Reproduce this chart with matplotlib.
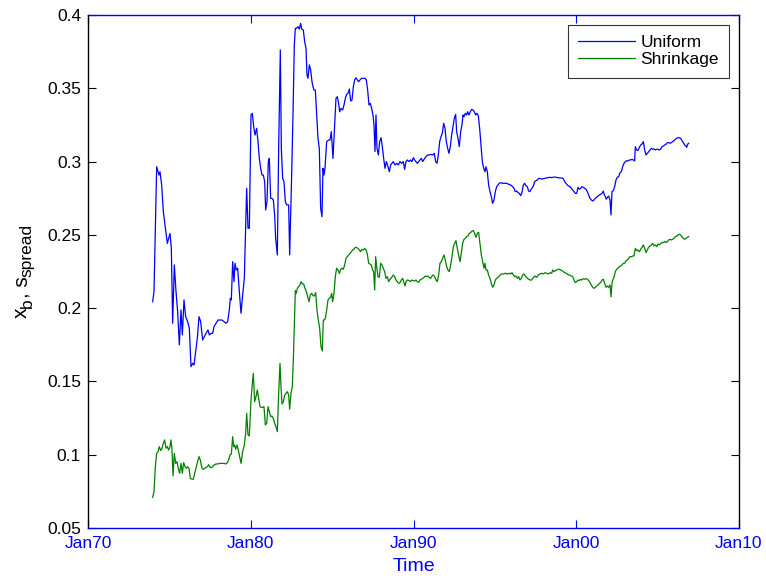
import matplotlib
matplotlib.use("Agg")
import matplotlib.pyplot as plt
from matplotlib.ticker import FixedLocator, FixedFormatter

plt.rcParams["font.family"] = ["Liberation Sans", "DejaVu Sans"]

# Uniform estimate (decimal year, value)
uniform_t = [
    1973.973, 1974.055, 1974.219, 1974.362, 1974.424, 1974.526, 1974.629, 1974.731, 1974.874, 1974.956,
    1975.038, 1975.120, 1975.202, 1975.304, 1975.407, 1975.509, 1975.612, 1975.714, 1975.796, 1975.898,
    1976.001, 1976.124, 1976.226, 1976.328, 1976.431, 1976.513, 1976.615, 1976.717, 1976.820, 1976.922,
    1977.045, 1977.148, 1977.250, 1977.373, 1977.455, 1977.557, 1977.660, 1977.741, 1977.864, 1977.987,
    1978.110, 1978.233, 1978.356, 1978.479, 1978.581, 1978.684, 1978.745, 1978.807, 1978.889, 1978.971,
    1979.032, 1979.114, 1979.196, 1979.298, 1979.401, 1979.503, 1979.605, 1979.687, 1979.749, 1979.831,
    1979.913, 1980.015, 1980.097, 1980.179, 1980.261, 1980.363, 1980.445, 1980.527, 1980.609, 1980.691,
    1980.773, 1980.855, 1980.916, 1980.998, 1981.080, 1981.141, 1981.223, 1981.305, 1981.387, 1981.469,
    1981.530, 1981.633, 1981.715, 1981.817, 1981.879, 1981.960, 1982.042, 1982.124, 1982.206, 1982.329,
    1982.391, 1982.513, 1982.595, 1982.677, 1982.739, 1982.800, 1982.903, 1982.984, 1983.066, 1983.128,
    1983.230, 1983.312, 1983.394, 1983.455, 1983.517, 1983.599, 1983.681, 1983.763, 1983.824, 1983.886,
    1983.968, 1984.050, 1984.131, 1984.213, 1984.295, 1984.377, 1984.438, 1984.500, 1984.561, 1984.664,
    1984.787, 1984.869, 1984.950, 1985.053, 1985.155, 1985.237, 1985.319, 1985.401,
    1985.463, 1985.545, 1985.647, 1985.729, 1985.811, 1985.893, 1985.975, 1986.057, 1986.139, 1986.221,
    1986.303, 1986.385, 1986.466, 1986.548, 1986.630, 1986.712, 1986.815, 1986.917, 1987.019, 1987.101,
    1987.183, 1987.265, 1987.347, 1987.429, 1987.511, 1987.572, 1987.634, 1987.695, 1987.757, 1987.839,
    1987.921, 1988.002, 1988.084, 1988.166, 1988.248, 1988.330, 1988.433, 1988.514, 1988.596, 1988.678,
    1988.760, 1988.863, 1988.965, 1989.067, 1989.170, 1989.272, 1989.375, 1989.457, 1989.538, 1989.620,
    1989.723, 1989.825, 1989.907, 1989.989, 1990.071, 1990.153, 1990.235, 1990.317, 1990.399, 1990.481,
    1990.562, 1990.665, 1990.767, 1990.870, 1990.972, 1991.075, 1991.177, 1991.279, 1991.361, 1991.443,
    1991.525, 1991.607, 1991.689, 1991.771, 1991.853, 1991.935, 1992.017, 1992.099, 1992.180, 1992.262,
    1992.344, 1992.426, 1992.508, 1992.590, 1992.651, 1992.733, 1992.815, 1992.897, 1992.979, 1993.041,
    1993.102, 1993.184, 1993.266, 1993.327, 1993.409, 1993.491, 1993.573, 1993.655, 1993.737, 1993.819,
    1993.901, 1993.983, 1994.065, 1994.146, 1994.228, 1994.310, 1994.392, 1994.454, 1994.536, 1994.617,
    1994.699, 1994.781, 1994.863, 1994.945, 1995.027, 1995.109, 1995.191, 1995.273, 1995.355, 1995.478,
    1995.600, 1995.723, 1995.846, 1995.969, 1996.092, 1996.174, 1996.256, 1996.338, 1996.420, 1996.502,
    1996.583, 1996.665, 1996.747, 1996.829, 1996.911, 1996.993, 1997.075, 1997.157,
    1997.199, 1997.281, 1997.363, 1997.445, 1997.527, 1997.609, 1997.691, 1997.773, 1997.896, 1998.019,
    1998.141, 1998.264, 1998.387, 1998.510, 1998.633, 1998.756, 1998.879, 1999.002, 1999.124, 1999.206,
    1999.288, 1999.370, 1999.452, 1999.534, 1999.616, 1999.698, 1999.780, 1999.862, 1999.944, 2000.026,
    2000.108, 2000.189, 2000.271, 2000.353, 2000.435, 2000.517, 2000.599, 2000.681, 2000.763, 2000.845,
    2000.927, 2001.009, 2001.091, 2001.172, 2001.254, 2001.336, 2001.418, 2001.500, 2001.582, 2001.664,
    2001.725, 2001.787, 2001.848, 2001.910, 2001.992, 2002.074, 2002.135, 2002.196, 2002.278, 2002.360,
    2002.442, 2002.524, 2002.606, 2002.688, 2002.770, 2002.852, 2002.934, 2003.016, 2003.098, 2003.180,
    2003.261, 2003.343, 2003.425, 2003.507, 2003.589, 2003.630, 2003.712, 2003.794, 2003.876, 2003.958,
    2004.040, 2004.122, 2004.204, 2004.285, 2004.367, 2004.449, 2004.531, 2004.613, 2004.695, 2004.777,
    2004.859, 2004.941, 2005.023, 2005.105, 2005.187, 2005.268, 2005.350, 2005.432, 2005.514, 2005.596,
    2005.678, 2005.760, 2005.842, 2005.924, 2006.006, 2006.088, 2006.170, 2006.252, 2006.333, 2006.415,
    2006.497, 2006.579, 2006.661, 2006.743, 2006.784, 2006.845, 2006.907,
]
uniform_v = [
    0.2044, 0.2113, 0.2965, 0.2908, 0.2931, 0.2840, 0.2658, 0.2567, 0.2442, 0.2476,
    0.2510, 0.2408, 0.1897, 0.2295, 0.2113, 0.1976, 0.1749, 0.1988, 0.1817, 0.2056,
    0.1942, 0.1908, 0.1862, 0.1601, 0.1624, 0.1612, 0.1703, 0.1794, 0.1942, 0.1908,
    0.1783, 0.1806, 0.1828, 0.1851, 0.1817, 0.1828, 0.1828, 0.1874, 0.1897, 0.1919,
    0.1919, 0.1919, 0.1908, 0.1897, 0.1908, 0.1988, 0.2067, 0.2056, 0.2317, 0.2181,
    0.2306, 0.2260, 0.2272, 0.2113, 0.1965, 0.2090, 0.2204, 0.2545, 0.2818, 0.2545,
    0.2545, 0.3318, 0.3329, 0.3238, 0.3181, 0.3227, 0.3136, 0.3022, 0.2954, 0.2908,
    0.2908, 0.2863, 0.2670, 0.2727, 0.3000, 0.3022, 0.2749, 0.2749, 0.2738, 0.2636,
    0.2476, 0.2363, 0.3090, 0.3761, 0.3090, 0.2886, 0.2863, 0.2727, 0.2704, 0.2704,
    0.2363, 0.2908, 0.3318, 0.3795, 0.3909, 0.3909, 0.3920, 0.3904, 0.3943, 0.3904,
    0.3898, 0.3818, 0.3773, 0.3591, 0.3568, 0.3659, 0.3625, 0.3545, 0.3511, 0.3488,
    0.3488, 0.3318, 0.3159, 0.3090, 0.2681, 0.2624, 0.2954, 0.2908, 0.2954, 0.3136,
    0.3147, 0.3147, 0.3204, 0.3022, 0.3250, 0.3431, 0.3443, 0.3397,
    0.3340, 0.3363, 0.3352, 0.3386, 0.3431, 0.3459, 0.3466, 0.3495, 0.3413, 0.3420,
    0.3511, 0.3557, 0.3572, 0.3557, 0.3545, 0.3557, 0.3568, 0.3568, 0.3568, 0.3557,
    0.3488, 0.3386, 0.3397, 0.3363, 0.3318, 0.3250, 0.3068, 0.3318, 0.3090, 0.3045,
    0.3136, 0.3163, 0.3102, 0.3022, 0.2954, 0.3000, 0.2965, 0.2931, 0.2977, 0.2988,
    0.3000, 0.2977, 0.2988, 0.2977, 0.3000, 0.2988, 0.3000, 0.2947, 0.3000, 0.3011,
    0.3000, 0.3011, 0.3000, 0.3027, 0.3011, 0.3000, 0.2988, 0.3000, 0.3011, 0.3022,
    0.3000, 0.3018, 0.3034, 0.3045, 0.3045, 0.3049, 0.3045, 0.3056, 0.3000, 0.2988,
    0.3045, 0.3136, 0.3170, 0.3193, 0.3261, 0.3227, 0.3136, 0.3090, 0.3056, 0.3102,
    0.3181, 0.3238, 0.3295, 0.3322, 0.3204, 0.3159, 0.3102, 0.3204, 0.3250, 0.3318,
    0.3306, 0.3329, 0.3318, 0.3340, 0.3318, 0.3340, 0.3356, 0.3352, 0.3340, 0.3318,
    0.3329, 0.3313, 0.3227, 0.3113, 0.3000, 0.2954, 0.2931, 0.2965, 0.2931, 0.2840,
    0.2795, 0.2761, 0.2715, 0.2738, 0.2795, 0.2829, 0.2840, 0.2852, 0.2856, 0.2852,
    0.2852, 0.2852, 0.2845, 0.2840, 0.2829, 0.2818, 0.2795, 0.2799, 0.2788, 0.2783,
    0.2767, 0.2790, 0.2840, 0.2852, 0.2836, 0.2829, 0.2799, 0.2795,
    0.2806, 0.2818, 0.2833, 0.2863, 0.2870, 0.2874, 0.2886, 0.2884, 0.2881, 0.2884,
    0.2888, 0.2890, 0.2893, 0.2890, 0.2895, 0.2893, 0.2890, 0.2888, 0.2888, 0.2884,
    0.2863, 0.2852, 0.2840, 0.2833, 0.2829, 0.2818, 0.2806, 0.2795, 0.2783, 0.2783,
    0.2824, 0.2811, 0.2818, 0.2829, 0.2824, 0.2818, 0.2811, 0.2795, 0.2772, 0.2749,
    0.2738, 0.2731, 0.2738, 0.2749, 0.2756, 0.2765, 0.2772, 0.2777, 0.2783, 0.2799,
    0.2772, 0.2761, 0.2743, 0.2756, 0.2765, 0.2738, 0.2636, 0.2795, 0.2802, 0.2829,
    0.2874, 0.2893, 0.2897, 0.2924, 0.2931, 0.2965, 0.2988, 0.2999, 0.3006, 0.3004,
    0.3011, 0.3011, 0.3015, 0.3011, 0.3004, 0.3102, 0.3079, 0.3075, 0.3097, 0.3113,
    0.3120, 0.3136, 0.3079, 0.3045, 0.3056, 0.3068, 0.3079, 0.3090, 0.3084, 0.3086,
    0.3079, 0.3084, 0.3084, 0.3079, 0.3084, 0.3102, 0.3106, 0.3113, 0.3118, 0.3129,
    0.3129, 0.3125, 0.3129, 0.3136, 0.3143, 0.3152, 0.3159, 0.3163, 0.3163, 0.3159,
    0.3143, 0.3129, 0.3113, 0.3106, 0.3097, 0.3118, 0.3125,
]

# Shrinkage estimate (decimal year, value)
shrink_t = [
    1973.973, 1974.055, 1974.137, 1974.219, 1974.301, 1974.383, 1974.465, 1974.547, 1974.629, 1974.711,
    1974.792, 1974.874, 1974.956, 1975.038, 1975.100, 1975.161, 1975.223, 1975.304, 1975.386, 1975.468,
    1975.550, 1975.632, 1975.714, 1975.796, 1975.878, 1975.960, 1976.042, 1976.124, 1976.206, 1976.287,
    1976.369, 1976.472, 1976.554, 1976.636, 1976.717, 1976.820, 1976.902, 1977.004, 1977.086, 1977.168,
    1977.250, 1977.332, 1977.414, 1977.496, 1977.578, 1977.660, 1977.741, 1977.864, 1977.987, 1978.110,
    1978.233, 1978.356, 1978.479, 1978.561, 1978.643, 1978.725, 1978.807, 1978.889, 1978.950, 1979.012,
    1979.073, 1979.155, 1979.237, 1979.319, 1979.401, 1979.503, 1979.605, 1979.687, 1979.749, 1979.831,
    1979.913, 1980.015, 1980.097, 1980.158, 1980.240, 1980.322, 1980.404, 1980.486, 1980.568, 1980.650,
    1980.732, 1980.814, 1980.896, 1980.978, 1981.059, 1981.141, 1981.223, 1981.305, 1981.387, 1981.469,
    1981.551, 1981.633, 1981.715, 1981.797, 1981.858, 1981.920, 1982.002, 1982.083, 1982.165, 1982.247,
    1982.329, 1982.391, 1982.472, 1982.554, 1982.616, 1982.677, 1982.739, 1982.800, 1982.862, 1982.944,
    1983.026, 1983.087, 1983.169, 1983.251, 1983.333, 1983.415, 1983.497, 1983.579, 1983.660, 1983.742,
    1983.824, 1983.906, 1983.988, 1984.070, 1984.152, 1984.234, 1984.316, 1984.397, 1984.459, 1984.520,
    1984.582, 1984.664, 1984.746, 1984.828, 1984.909, 1984.971, 1985.032, 1985.114, 1985.196, 1985.278,
    1985.360, 1985.442,
    1985.524, 1985.606, 1985.688, 1985.770, 1985.852, 1985.934, 1986.016, 1986.098, 1986.180, 1986.262,
    1986.344, 1986.425, 1986.507, 1986.589, 1986.671, 1986.753, 1986.835, 1986.917, 1986.999, 1987.081,
    1987.163, 1987.245, 1987.327, 1987.409, 1987.490, 1987.552, 1987.613, 1987.675, 1987.736, 1987.818,
    1987.900, 1987.982, 1988.064, 1988.146, 1988.228, 1988.310, 1988.392, 1988.474, 1988.555, 1988.658,
    1988.760, 1988.842, 1988.924, 1989.006, 1989.088, 1989.170, 1989.252, 1989.334, 1989.416, 1989.477,
    1989.538, 1989.620, 1989.723, 1989.825, 1989.907, 1989.989, 1990.071, 1990.153, 1990.235, 1990.317,
    1990.399, 1990.481, 1990.562, 1990.644, 1990.726, 1990.808, 1990.890, 1990.972, 1991.054, 1991.136,
    1991.218, 1991.300, 1991.382, 1991.464, 1991.546, 1991.627, 1991.709, 1991.791, 1991.873, 1991.955,
    1992.037, 1992.119, 1992.201, 1992.283, 1992.365, 1992.447, 1992.529, 1992.610, 1992.692, 1992.774,
    1992.856, 1992.938, 1993.020, 1993.102, 1993.184, 1993.266, 1993.348, 1993.430, 1993.511, 1993.593,
    1993.675, 1993.757, 1993.839, 1993.921, 1994.003, 1994.085, 1994.167, 1994.249, 1994.331, 1994.392,
    1994.454, 1994.536, 1994.617, 1994.699, 1994.781, 1994.863, 1994.945, 1995.027, 1995.109, 1995.191,
    1995.273, 1995.396, 1995.518, 1995.641, 1995.764, 1995.887, 1995.969, 1996.051, 1996.133, 1996.215,
    1996.297, 1996.379, 1996.461, 1996.543, 1996.624, 1996.706, 1996.788, 1996.870, 1996.952, 1997.075,
    1997.157,
    1997.261, 1997.363, 1997.466, 1997.568, 1997.670, 1997.773, 1997.875, 1997.978, 1998.080, 1998.182,
    1998.285, 1998.387, 1998.490, 1998.551, 1998.633, 1998.715, 1998.797, 1998.879, 1998.961, 1999.043,
    1999.124, 1999.206, 1999.288, 1999.370, 1999.452, 1999.534, 1999.616, 1999.698, 1999.780, 1999.862,
    1999.944, 2000.026, 2000.108, 2000.189, 2000.271, 2000.353, 2000.435, 2000.517, 2000.599, 2000.681,
    2000.763, 2000.845, 2000.927, 2001.009, 2001.091, 2001.172, 2001.254, 2001.336, 2001.418, 2001.500,
    2001.582, 2001.664, 2001.746, 2001.828, 2001.910, 2001.992, 2002.074, 2002.135, 2002.196, 2002.237,
    2002.319, 2002.401, 2002.483, 2002.565, 2002.647, 2002.729, 2002.811, 2002.893, 2002.975, 2003.057,
    2003.139, 2003.221, 2003.302, 2003.384, 2003.466, 2003.548, 2003.630, 2003.712, 2003.794, 2003.876,
    2003.958, 2004.040, 2004.122, 2004.204, 2004.285, 2004.367, 2004.449, 2004.531, 2004.613, 2004.695,
    2004.777, 2004.859, 2004.941, 2005.023, 2005.105, 2005.187, 2005.268, 2005.350, 2005.432, 2005.514,
    2005.596, 2005.678, 2005.760, 2005.842, 2005.924, 2006.006, 2006.088, 2006.170, 2006.252, 2006.333,
    2006.415, 2006.497, 2006.579, 2006.661, 2006.743, 2006.825, 2006.907,
]
shrink_v = [
    0.0709, 0.0748, 0.0918, 0.1009, 0.1021, 0.1055, 0.1028, 0.1044, 0.1078, 0.1101,
    0.1044, 0.1055, 0.1032, 0.1055, 0.1101, 0.1032, 0.0855, 0.1009, 0.0941, 0.0953,
    0.0907, 0.0873, 0.0941, 0.0873, 0.0946, 0.0918, 0.0907, 0.0918, 0.0907, 0.0839,
    0.0834, 0.0832, 0.0873, 0.0907, 0.0946, 0.0987, 0.0964, 0.0907, 0.0900, 0.0907,
    0.0914, 0.0918, 0.0932, 0.0914, 0.0912, 0.0918, 0.0930, 0.0937, 0.0937, 0.0941,
    0.0941, 0.0941, 0.0937, 0.0946, 0.0964, 0.0998, 0.1005, 0.1123, 0.1055, 0.1066,
    0.1037, 0.1066, 0.1032, 0.0987, 0.0941, 0.1021, 0.1066, 0.1146, 0.1282, 0.1135,
    0.1128, 0.1373, 0.1487, 0.1555, 0.1362, 0.1396, 0.1442, 0.1385, 0.1328, 0.1323,
    0.1323, 0.1328, 0.1203, 0.1214, 0.1328, 0.1294, 0.1260, 0.1264, 0.1248, 0.1214,
    0.1191, 0.1157, 0.1419, 0.1623, 0.1464, 0.1346, 0.1362, 0.1407, 0.1419, 0.1430,
    0.1407, 0.1310, 0.1419, 0.1464, 0.1646, 0.1874, 0.2119, 0.2101, 0.2135, 0.2147,
    0.2158, 0.2181, 0.2165, 0.2165, 0.2135, 0.2112, 0.2078, 0.2044, 0.2090, 0.2101,
    0.2085, 0.2083, 0.2106, 0.1987, 0.1919, 0.1862, 0.1737, 0.1708, 0.1919, 0.1919,
    0.1930, 0.1987, 0.2056, 0.2067, 0.2074, 0.2101, 0.2044, 0.2101, 0.2215, 0.2272,
    0.2260, 0.2237,
    0.2265, 0.2272, 0.2265, 0.2294, 0.2340, 0.2351, 0.2363, 0.2374, 0.2385, 0.2397,
    0.2401, 0.2415, 0.2413, 0.2408, 0.2397, 0.2385, 0.2401, 0.2397, 0.2408, 0.2397,
    0.2369, 0.2306, 0.2301, 0.2294, 0.2260, 0.2249, 0.2124, 0.2351, 0.2283, 0.2215,
    0.2210, 0.2306, 0.2294, 0.2272, 0.2249, 0.2203, 0.2215, 0.2181, 0.2197, 0.2210,
    0.2226, 0.2215, 0.2192, 0.2181, 0.2169, 0.2174, 0.2192, 0.2203, 0.2174, 0.2151,
    0.2181, 0.2192, 0.2188, 0.2181, 0.2192, 0.2188, 0.2185, 0.2192, 0.2181, 0.2176,
    0.2192, 0.2197, 0.2203, 0.2210, 0.2219, 0.2215, 0.2219, 0.2210, 0.2203, 0.2219,
    0.2226, 0.2215, 0.2192, 0.2181, 0.2226, 0.2306, 0.2317, 0.2340, 0.2363, 0.2328,
    0.2283, 0.2260, 0.2249, 0.2294, 0.2351, 0.2420, 0.2442, 0.2460, 0.2408, 0.2363,
    0.2317, 0.2374, 0.2442, 0.2470, 0.2476, 0.2488, 0.2492, 0.2510, 0.2515, 0.2526,
    0.2529, 0.2510, 0.2483, 0.2510, 0.2517, 0.2442, 0.2363, 0.2317, 0.2272, 0.2306,
    0.2260, 0.2260, 0.2226, 0.2203, 0.2169, 0.2142, 0.2158, 0.2192, 0.2203, 0.2210,
    0.2219, 0.2233, 0.2233, 0.2238, 0.2233, 0.2238, 0.2233, 0.2242, 0.2226, 0.2215,
    0.2219, 0.2203, 0.2215, 0.2192, 0.2203, 0.2226, 0.2233, 0.2219, 0.2210, 0.2197,
    0.2192,
    0.2192, 0.2210, 0.2219, 0.2210, 0.2226, 0.2233, 0.2238, 0.2233, 0.2242, 0.2238,
    0.2233, 0.2242, 0.2238, 0.2260, 0.2249, 0.2256, 0.2260, 0.2265, 0.2265, 0.2260,
    0.2256, 0.2249, 0.2242, 0.2238, 0.2233, 0.2226, 0.2226, 0.2219, 0.2215, 0.2192,
    0.2174, 0.2181, 0.2192, 0.2188, 0.2197, 0.2192, 0.2201, 0.2197, 0.2201, 0.2197,
    0.2188, 0.2174, 0.2158, 0.2142, 0.2135, 0.2142, 0.2151, 0.2158, 0.2169, 0.2174,
    0.2192, 0.2197, 0.2169, 0.2142, 0.2151, 0.2142, 0.2158, 0.2078, 0.2169, 0.2192,
    0.2210, 0.2249, 0.2265, 0.2272, 0.2283, 0.2288, 0.2294, 0.2306, 0.2306, 0.2324,
    0.2328, 0.2340, 0.2351, 0.2351, 0.2356, 0.2356, 0.2408, 0.2392, 0.2397, 0.2385,
    0.2401, 0.2415, 0.2431, 0.2408, 0.2379, 0.2397, 0.2415, 0.2424, 0.2431, 0.2442,
    0.2424, 0.2431, 0.2420, 0.2438, 0.2431, 0.2442, 0.2447, 0.2447, 0.2454, 0.2447,
    0.2454, 0.2465, 0.2470, 0.2465, 0.2470, 0.2476, 0.2488, 0.2492, 0.2499, 0.2504,
    0.2499, 0.2488, 0.2476, 0.2470, 0.2476, 0.2483, 0.2488,
]

x_ticks = [1970, 1980, 1990, 2000, 2010]
x_tick_labels = ["Jan70", "Jan80", "Jan90", "Jan00", "Jan10"]
y_ticks = [0.05, 0.1, 0.15, 0.2, 0.25, 0.3, 0.35, 0.4]
y_tick_labels = ["0.05", "0.1", "0.15", "0.2", "0.25", "0.3", "0.35", "0.4"]

# y-axis label pieces: (text, is_subscript)
ylabel_parts = [("x", False), ("b", True), (", s", False), ("spread", True)]

AXIS_BLUE = "#0000ff"
W, H = 766, 580

fig = plt.figure(figsize=(W / 100, H / 100), dpi=100)
ax = fig.add_axes([88 / W, 52 / H, 651 / W, 513 / H])

ax.plot(uniform_t, uniform_v, color="#0000ff", lw=0.9, label="Uniform")
ax.plot(shrink_t, shrink_v, color="#008000", lw=0.9, label="Shrinkage")

ax.set_xlim(1970, 2010)
ax.set_ylim(0.05, 0.4)
ax.xaxis.set_major_locator(FixedLocator(x_ticks))
ax.xaxis.set_major_formatter(FixedFormatter(x_tick_labels))
ax.yaxis.set_major_locator(FixedLocator(y_ticks))
ax.yaxis.set_major_formatter(FixedFormatter(y_tick_labels))

ax.tick_params(direction="in", length=6, width=0.8, labelsize=12.5, top=True, right=True)
ax.tick_params(axis="x", colors=AXIS_BLUE, pad=6)
ax.tick_params(axis="y", colors="black", pad=5)

for side in ("top", "bottom"):
    ax.spines[side].set_color(AXIS_BLUE)
    ax.spines[side].set_linewidth(1.0)
for side in ("left", "right"):
    ax.spines[side].set_color("black")
    ax.spines[side].set_linewidth(1.0)

ax.set_xlabel("Time", color=AXIS_BLUE, fontsize=14, labelpad=5)

# Rotated y label built from normal and subscript runs, stacked bottom to top
renderer = fig.canvas.get_renderer()
main_size, sub_size = 15, 12.5
baseline_x, sub_shift = 27.0, 4.5
widths = []
for txt, is_sub in ylabel_parts:
    probe = fig.text(0, 0, txt, fontsize=sub_size if is_sub else main_size)
    widths.append(probe.get_window_extent(renderer).width)
    probe.remove()
total = sum(widths)
y_pos = 271.0 + total / 2.0  # pixel row (from top) where the label starts
for (txt, is_sub), w in zip(ylabel_parts, widths):
    xb = baseline_x + (sub_shift if is_sub else 0.0)
    fig.text(xb / W, (H - y_pos) / H, txt, rotation=90, rotation_mode="anchor",
             ha="left", va="baseline", color="black",
             fontsize=sub_size if is_sub else main_size)
    y_pos -= w

leg = ax.legend(loc="upper right", fontsize=12.5, frameon=True, fancybox=False,
                edgecolor="black", borderaxespad=0.55, handlelength=3.3,
                handletextpad=0.3, borderpad=0.6, labelspacing=0.12)
leg.get_frame().set_linewidth(0.8)

fig.savefig("out.png", dpi=100)
